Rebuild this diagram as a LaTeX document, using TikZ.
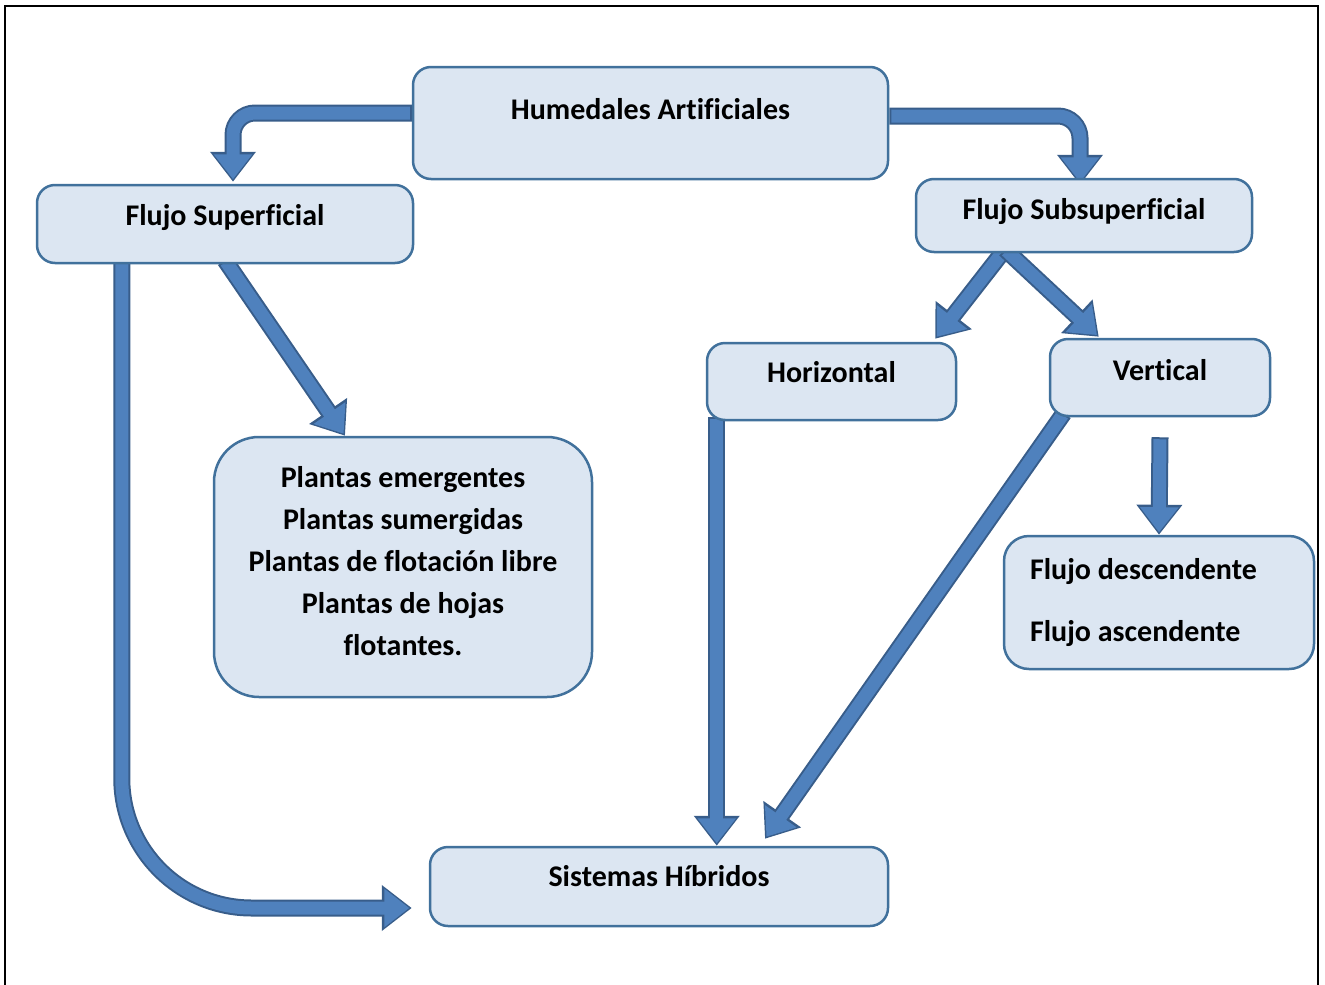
\documentclass[tikz,border=0pt]{standalone}
\usepackage{fontspec}
\setmainfont{Carlito}[Ligatures=NoCommon]
\usetikzlibrary{arrows.meta,backgrounds}
\definecolor{boxfill}{HTML}{DCE6F2}
\definecolor{boxline}{HTML}{41719C}
\definecolor{arrfill}{HTML}{4F81BD}
\definecolor{arrline}{HTML}{385D8A}
\tikzset{
  box/.style={draw=boxline, fill=boxfill, line width=2.5pt, rounded corners=18pt, inner sep=0pt,
    font=\fontsize{30}{36}\selectfont\bfseries},
  arrout/.style={draw=arrline, line width=17pt, -{Triangle[width=44pt,length=30pt]}},
  arrin/.style={draw=arrfill, line width=13pt, shorten <=2pt, shorten >=2.5pt, -{Triangle[width=37pt,length=25pt]}},
}
\newcommand\blockarrow[2][]{\draw[arrout,#1] #2; \draw[arrin,#1] #2;}
\begin{document}
\begin{tikzpicture}[x=1pt,y=-1pt]
\useasboundingbox (0,0) rectangle (1325,985);
\draw[line width=2.5pt] (5,995) -- (5,6) -- (1318,6) -- (1318,995);

\node[box, minimum width=475pt, minimum height=112pt] (hum) at (650.5,123) {\raisebox{4pt}[0pt][0pt]{Humedales Artificiales}};
\node[box, minimum width=376pt, minimum height=78pt] (fs) at (225,224) {\raisebox{-1.5pt}[0pt][0pt]{Flujo Superficial}};
\node[box, minimum width=336pt, minimum height=73pt] (fss) at (1084,215.5) {\raisebox{-4pt}[0pt][0pt]{Flujo Subsuperficial}};
\node[box, minimum width=249pt, minimum height=77pt] (hor) at (831.5,381.5) {\raisebox{-0.5pt}[0pt][0pt]{Horizontal}};
\node[box, minimum width=220pt, minimum height=77pt] (ver) at (1160,377.5) {\raisebox{-2.5pt}[0pt][0pt]{Vertical}};
\node[box, minimum width=378pt, minimum height=260pt, rounded corners=45pt,
  font=\fontsize{30}{42}\selectfont\bfseries] (pl) at (403,567)
  {\raisebox{-2pt}[0pt][0pt]{\begin{tabular}{@{}c@{}}Plantas emergentes\\Plantas sumergidas\\Plantas de flotación libre\\Plantas de hojas\\flotantes.\end{tabular}}};
\node[box, minimum width=310pt, minimum height=133pt, rounded corners=25pt, align=flush left,
  inner xsep=26pt, text width=258pt, font=\fontsize{30}{62}\selectfont\bfseries] (fd) at (1159,602.5)
  {Flujo descendente\\Flujo ascendente};
\node[box, minimum width=458pt, minimum height=79pt] (sis) at (659,886.5) {\raisebox{0pt}[0pt][0pt]{Sistemas Híbridos}};

\coordinate (h1) at ([xshift=11pt,yshift=4pt]hor.south west);
\begin{scope}[on background layer]
\blockarrow[rounded corners=22pt]{([yshift=10pt]hum.west) -| ([xshift=8pt,yshift=2pt]fs.north)}
\blockarrow[rounded corners=22pt]{([yshift=7pt]hum.east) -| ([xshift=-4pt,yshift=-7pt]fss.north)}
\blockarrow{([xshift=-79pt,yshift=4pt]fss.south) -- ([xshift=-22pt,yshift=3pt]hor.north east)}
\blockarrow{([xshift=-79pt,yshift=4pt]fss.south) -- ([xshift=50pt,yshift=1pt]ver.north west)}
\blockarrow{([yshift=4pt]fs.south) -- ([xshift=-58pt]pl.north)}
\blockarrow[rounded corners=130pt]{([xshift=86pt,yshift=4pt]fs.south west) |- ([xshift=-17pt,yshift=-21.5pt]sis.west)}
\blockarrow{(h1) -- (h1 |- sis.north)}
\blockarrow{([xshift=15pt,yshift=4pt]ver.south west) -- ([xshift=106pt,yshift=7pt]sis.north)}
\blockarrow{([yshift=-20pt]ver.south) -- (fd.north)}
\end{scope}
\end{tikzpicture}
\end{document}
